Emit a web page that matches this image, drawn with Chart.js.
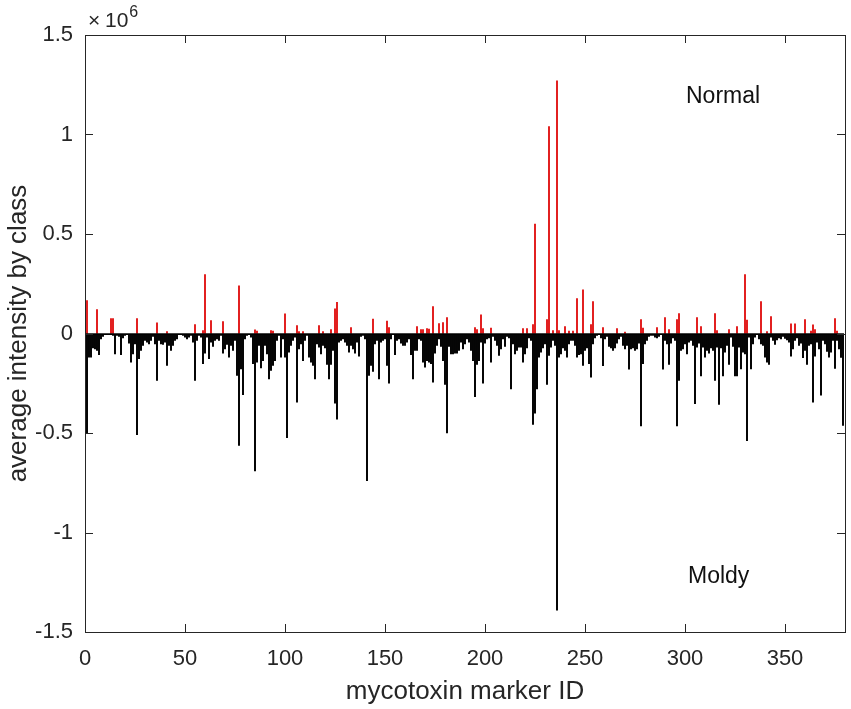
<!DOCTYPE html>
<html>
<head>
<meta charset="utf-8">
<script src="https://cdn.jsdelivr.net/npm/chart.js@4"></script>
<style>
  body { margin: 0; background: #fff; }
  #chart { display: block; }
</style>
</head>
<body>
<canvas id="chart" width="851" height="709"></canvas>
<script>
// average intensity of the Moldy class, marker IDs 1..379 (x 10^6)
var moldy = [
  -0.50, -0.119, -0.119, -0.072, -0.077, -0.085, -0.106, -0.027, -0.015, -0.005,
  -0.002, -0.005, -0.005, -0.01, -0.102, -0.01, -0.015, -0.106, -0.022, -0.01,
  -0.005, -0.049, -0.144, -0.102, -0.052, -0.508, -0.127, -0.085, -0.06, -0.035,
  -0.044, -0.052, -0.035, -0.015, -0.052, -0.236, -0.035, -0.052, -0.055, -0.044,
  -0.161, -0.06, -0.085, -0.06, -0.035, -0.027, -0.005, -0.005, -0.01, -0.018,
  -0.027, -0.018, -0.01, -0.044, -0.236, -0.035, -0.01, -0.018, -0.152, -0.099,
  -0.018, -0.127, -0.044, -0.065, -0.035, -0.027, -0.035, -0.01, -0.099, -0.077,
  -0.055, -0.119, -0.06, -0.085, -0.035, -0.211, -0.563, -0.178, -0.308, -0.027,
  -0.01, -0.005, -0.018, -0.152, -0.69, -0.144, -0.06, -0.173, -0.136, -0.06,
  -0.102, -0.228, -0.186, -0.161, -0.136, -0.035, -0.01, -0.119, -0.027, -0.119,
  -0.524, -0.094, -0.06, -0.035, -0.018, -0.345, -0.077, -0.052, -0.136, -0.035,
  -0.01, -0.119, -0.144, -0.161, -0.228, -0.052, -0.069, -0.102, -0.06, -0.072,
  -0.156, -0.228, -0.156, -0.085, -0.35, -0.43, -0.044, -0.035, -0.027, -0.044,
  -0.06, -0.094, -0.06, -0.077, -0.099, -0.044, -0.114, -0.015, -0.01, -0.027,
  -0.74, -0.211, -0.161, -0.191, -0.052, -0.035, -0.228, -0.044, -0.035, -0.027,
  -0.161, -0.25, -0.027, -0.005, -0.106, -0.035, -0.027, -0.049, -0.06, -0.06,
  -0.044, -0.027, -0.106, -0.228, -0.085, -0.085, -0.027, -0.035, -0.144, -0.169,
  -0.136, -0.144, -0.152, -0.245, -0.099, -0.06, -0.027, -0.065, -0.136, -0.256,
  -0.5, -0.065, -0.102, -0.102, -0.099, -0.099, -0.085, -0.044, -0.077, -0.052,
  -0.027, -0.044, -0.085, -0.136, -0.317, -0.156, -0.136, -0.044, -0.25, -0.049,
  -0.027, -0.022, -0.144, -0.015, -0.035, -0.06, -0.11, -0.077, -0.027, -0.065,
  -0.015, -0.022, -0.278, -0.052, -0.102, -0.085, -0.069, -0.069, -0.144, -0.102,
  -0.072, -0.022, -0.035, -0.457, -0.4, -0.278, -0.119, -0.094, -0.072, -0.052,
  -0.256, -0.11, -0.069, -0.035, -0.06, -1.39, -0.119, -0.102, -0.072, -0.085,
  -0.119, -0.052, -0.035, -0.035, -0.06, -0.119, -0.106, -0.102, -0.161, -0.085,
  -0.072, -0.152, -0.219, -0.052, -0.022, -0.01, -0.005, -0.022, -0.162, -0.027,
  -0.015, -0.065, -0.072, -0.085, -0.072, -0.049, -0.027, -0.015, -0.06, -0.077,
  -0.06, -0.179, -0.077, -0.072, -0.085, -0.077, -0.049, -0.464, -0.152, -0.052,
  -0.035, -0.015, -0.01, -0.01, -0.018, -0.022, -0.015, -0.005, -0.179, -0.035,
  -0.052, -0.156, -0.049, -0.022, -0.035, -0.464, -0.236, -0.085, -0.077, -0.052,
  -0.102, -0.044, -0.035, -0.06, -0.353, -0.069, -0.049, -0.213, -0.069, -0.119,
  -0.085, -0.099, -0.072, -0.085, -0.236, -0.069, -0.357, -0.072, -0.213, -0.094,
  -0.06, -0.156, -0.018, -0.065, -0.213, -0.213, -0.069, -0.178, -0.094, -0.102,
  -0.538, -0.018, -0.178, -0.052, -0.018, -0.005, -0.027, -0.052, -0.06, -0.119,
  -0.144, -0.156, -0.018, -0.035, -0.055, -0.032, -0.022, -0.027, -0.015, -0.025,
  -0.032, -0.044, -0.114, -0.077, -0.035, -0.022, -0.06, -0.049, -0.122, -0.085,
  -0.156, -0.06, -0.052, -0.345, -0.114, -0.044, -0.077, -0.31, -0.035, -0.052,
  -0.09, -0.119, -0.094, -0.035, -0.175, -0.035, -0.077, -0.12, -0.462
];

// Normal class: only the markers with a visible red bar
var normalIds = [1, 6, 13, 14, 26, 36, 41, 55, 59, 60, 63, 69, 77, 85, 86, 93, 94, 100, 106, 107,
  109, 117, 119, 123, 125, 126, 133, 144, 151, 152, 166, 168, 169, 171, 172, 174, 177, 179, 181, 195,
  196, 198, 199, 203, 219, 221, 224, 225, 231, 232, 234, 236, 237, 240, 242, 244, 246, 249, 253, 254,
  259, 266, 270, 278, 279, 286, 290, 292, 296, 297, 306, 308, 315, 316, 322, 326, 330, 331, 338, 341,
  343, 353, 355, 360, 363, 364, 365, 375, 376];
var normalVals = [0.166, 0.12, 0.075, 0.075, 0.075, 0.054, 0.01, 0.045, 0.015, 0.296, 0.065, 0.06, 0.24, 0.018, 0.012, 0.015, 0.012, 0.099, 0.04, 0.01,
  0.01, 0.04, 0.01, 0.02, 0.124, 0.157, 0.03, 0.072, 0.062, 0.03, 0.035, 0.02, 0.02, 0.025, 0.022, 0.135, 0.05, 0.055, 0.08, 0.03,
  0.02, 0.094, 0.025, 0.027, 0.025, 0.025, 0.045, 0.55, 0.07, 1.04, 0.015, 1.27, 0.015, 0.035, 0.012, 0.012, 0.175, 0.22, 0.045, 0.16,
  0.03, 0.025, 0.007, 0.07, 0.027, 0.03, 0.08, 0.02, 0.07, 0.10, 0.08, 0.035, 0.10, 0.015, 0.02, 0.035, 0.296, 0.067, 0.16, 0.01,
  0.085, 0.049, 0.049, 0.07, 0.012, 0.044, 0.02, 0.075, 0.012];

var xTicks = [0, 50, 100, 150, 200, 250, 300, 350];
var yTicks = [-1.5, -1, -0.5, 0, 0.5, 1, 1.5];

var font = '"Liberation Sans", Arial, sans-serif';
var ink = '#262626';

var moldyPts = moldy.map(function (v, i) { return { x: i + 1, y: v }; });
var normalPts = normalIds.map(function (id, i) { return { x: id, y: normalVals[i] }; });

var matlabAxes = {
  id: 'matlabAxes',
  afterDraw: function (chart) {
    var ctx = chart.ctx, a = chart.chartArea;
    var xs = chart.scales.x, ys = chart.scales.y;
    ctx.save();
    // zero line
    ctx.strokeStyle = '#000';
    ctx.lineWidth = 1.2;
    var y0 = Math.round(ys.getPixelForValue(0)) + 0.5;
    ctx.beginPath(); ctx.moveTo(a.left, y0); ctx.lineTo(a.right, y0); ctx.stroke();
    // box and inward ticks
    ctx.strokeStyle = ink;
    ctx.lineWidth = 1;
    ctx.strokeRect(Math.round(a.left) + 0.5, Math.round(a.top) + 0.5,
      Math.round(a.right - a.left), Math.round(a.bottom - a.top));
    ctx.beginPath();
    yTicks.forEach(function (t) {
      var p = Math.round(ys.getPixelForValue(t)) + 0.5;
      ctx.moveTo(a.left, p); ctx.lineTo(a.left + 8, p);
      ctx.moveTo(a.right, p); ctx.lineTo(a.right - 8, p);
    });
    xTicks.forEach(function (t) {
      var p = Math.round(xs.getPixelForValue(t)) + 0.5;
      ctx.moveTo(p, a.bottom); ctx.lineTo(p, a.bottom - 8);
      ctx.moveTo(p, a.top); ctx.lineTo(p, a.top + 8);
    });
    ctx.stroke();
    // exponent label
    ctx.fillStyle = ink;
    ctx.textBaseline = 'alphabetic';
    ctx.textAlign = 'left';
    ctx.font = '21px ' + font;
    ctx.fillText('\u00d7', a.left + 3, a.top - 8);
    ctx.fillText('10', a.left + 20, a.top - 8);
    var w = ctx.measureText('10').width;
    ctx.font = '16px ' + font;
    ctx.fillText('6', a.left + 21 + w, a.top - 18);
    // class labels
    ctx.font = '23px ' + font;
    ctx.fillStyle = '#111';
    ctx.textBaseline = 'middle';
    ctx.fillText('Normal', xs.getPixelForValue(300.5), ys.getPixelForValue(1.19));
    ctx.fillText('Moldy', xs.getPixelForValue(301.5), ys.getPixelForValue(-1.22));
    ctx.restore();
  }
};

new Chart(document.getElementById('chart').getContext('2d'), {
  type: 'bar',
  data: {
    datasets: [{
      label: 'Moldy',
      data: moldyPts,
      backgroundColor: '#000',
      barThickness: 1.3,
      grouped: false
    }, {
      label: 'Normal',
      data: normalPts,
      backgroundColor: 'rgb(226,28,28)',
      barThickness: 1.3,
      grouped: false
    }]
  },
  options: {
    responsive: false,
    animation: false,
    devicePixelRatio: 1,
    layout: { padding: { top: 35, right: 6, left: 0, bottom: 0 } },
    plugins: { legend: { display: false }, tooltip: { enabled: false } },
    scales: {
      x: {
        type: 'linear',
        min: 0, max: 380,
        offset: false,
        grid: { display: false, drawTicks: false },
        border: { display: false },
        ticks: {
          stepSize: 50, includeBounds: false, padding: 14,
          color: ink, font: { family: font, size: 22 },
          maxRotation: 0
        },
        title: { display: true, text: 'mycotoxin marker ID', color: ink, font: { family: font, size: 26 }, padding: { top: 2, bottom: 2 } },
        afterFit: function (s) { s.height = 77; }
      },
      y: {
        min: -1.5, max: 1.5,
        grid: { display: false, drawTicks: false },
        border: { display: false },
        ticks: {
          stepSize: 0.5, padding: 12,
          color: ink, font: { family: font, size: 22 },
          callback: function (v) { return String(v); }
        },
        title: { display: true, text: 'average intensity by class', color: ink, font: { family: font, size: 26 }, padding: { top: 3, bottom: 3 } },
        afterFit: function (s) { s.width = 85; }
      }
    }
  },
  plugins: [matlabAxes]
});
</script>
</body>
</html>
